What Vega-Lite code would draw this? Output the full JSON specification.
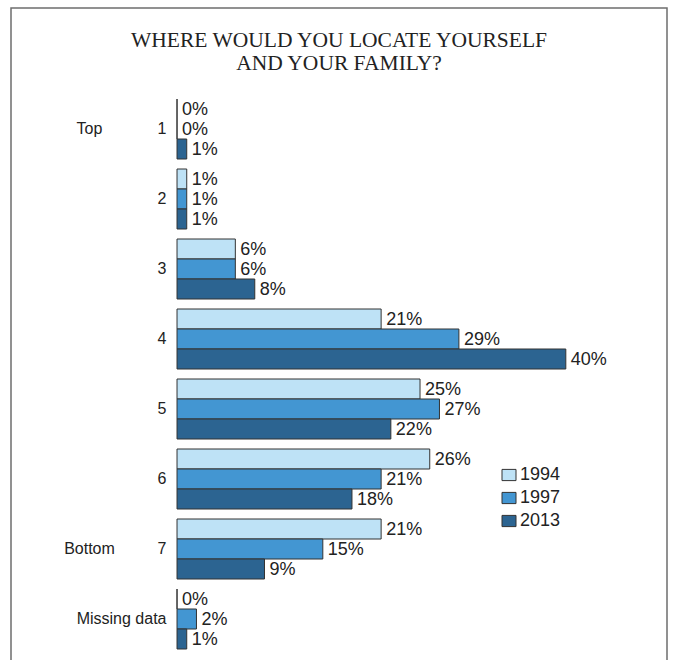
{
  "$schema": "https://vega.github.io/schema/vega-lite/v6.json",
  "width": 656,
  "height": 662,
  "autosize": {"type": "none"},
  "padding": {"left": 11, "top": 8, "right": 10, "bottom": 0},
  "background": "white",
  "config": {
    "view": {"stroke": "#6e6e6e", "strokeWidth": 1.5},
    "font": "Liberation Sans"
  },
  "title": {
    "text": ["WHERE WOULD YOU LOCATE YOURSELF", "AND YOUR FAMILY?"],
    "font": "Liberation Serif",
    "fontSize": 21.5,
    "fontWeight": "normal",
    "color": "#222222",
    "anchor": "middle",
    "lineHeight": 23,
    "offset": -66
  },
  "data": {
    "values": [
      {"cat": "1", "year": "1994", "value": 0, "label": "0%"},
      {"cat": "1", "year": "1997", "value": 0, "label": "0%"},
      {"cat": "1", "year": "2013", "value": 1, "label": "1%"},
      {"cat": "2", "year": "1994", "value": 1, "label": "1%"},
      {"cat": "2", "year": "1997", "value": 1, "label": "1%"},
      {"cat": "2", "year": "2013", "value": 1, "label": "1%"},
      {"cat": "3", "year": "1994", "value": 6, "label": "6%"},
      {"cat": "3", "year": "1997", "value": 6, "label": "6%"},
      {"cat": "3", "year": "2013", "value": 8, "label": "8%"},
      {"cat": "4", "year": "1994", "value": 21, "label": "21%"},
      {"cat": "4", "year": "1997", "value": 29, "label": "29%"},
      {"cat": "4", "year": "2013", "value": 40, "label": "40%"},
      {"cat": "5", "year": "1994", "value": 25, "label": "25%"},
      {"cat": "5", "year": "1997", "value": 27, "label": "27%"},
      {"cat": "5", "year": "2013", "value": 22, "label": "22%"},
      {"cat": "6", "year": "1994", "value": 26, "label": "26%"},
      {"cat": "6", "year": "1997", "value": 21, "label": "21%"},
      {"cat": "6", "year": "2013", "value": 18, "label": "18%"},
      {"cat": "7", "year": "1994", "value": 21, "label": "21%"},
      {"cat": "7", "year": "1997", "value": 15, "label": "15%"},
      {"cat": "7", "year": "2013", "value": 9, "label": "9%"},
      {"cat": "Missing data", "year": "1994", "value": 0, "label": "0%"},
      {"cat": "Missing data", "year": "1997", "value": 2, "label": "2%"},
      {"cat": "Missing data", "year": "2013", "value": 1, "label": "1%"}
    ]
  },
  "encoding": {
    "y": {
      "field": "cat",
      "type": "nominal",
      "sort": ["1", "2", "3", "4", "5", "6", "7", "Missing data"],
      "scale": {"paddingInner": 0.142857, "paddingOuter": 0.8, "align": 0.8125}
    },
    "yOffset": {
      "field": "year",
      "type": "nominal",
      "sort": ["1994", "1997", "2013"],
      "scale": {"paddingInner": 0, "paddingOuter": 0}
    },
    "x": {
      "field": "value",
      "type": "quantitative",
      "scale": {"domain": [-17.08, 50.41], "nice": false, "zero": false},
      "axis": null
    }
  },
  "layer": [
    {
      "mark": {"type": "bar", "stroke": "#333333", "strokeWidth": 1},
      "encoding": {
        "y": {
          "field": "cat",
          "type": "nominal",
          "sort": ["1", "2", "3", "4", "5", "6", "7", "Missing data"],
          "axis": {
            "title": null,
            "orient": "left",
            "offset": -166,
            "domain": false,
            "ticks": false,
            "tickSize": 0,
            "labelPadding": 11,
            "labelFontSize": 16,
            "labelColor": "#222222",
            "labelFont": "Liberation Sans"
          }
        },
        "x2": {"datum": 0},
        "color": {
          "field": "year",
          "type": "nominal",
          "scale": {"domain": ["1994", "1997", "2013"], "range": ["#bee2f6", "#4396d2", "#2c6491"]},
          "legend": {
            "title": null,
            "orient": "none",
            "legendX": 489,
            "legendY": 458,
            "symbolType": "M-1,-0.8H1V0.8H-1Z",
            "symbolSize": 196,
            "symbolStrokeColor": "#333333",
            "symbolStrokeWidth": 1,
            "symbolOpacity": 1,
            "labelFontSize": 18,
            "labelColor": "#222222",
            "labelFont": "Liberation Sans",
            "labelOffset": 2,
            "rowPadding": 5
          }
        }
      }
    },
    {
      "mark": {"type": "text", "align": "left", "baseline": "middle", "dx": 5, "dy": 1, "fontSize": 18, "color": "#222222"},
      "encoding": {
        "y": {
          "field": "cat",
          "type": "nominal",
          "sort": ["1", "2", "3", "4", "5", "6", "7", "Missing data"],
          "axis": {
            "title": null,
            "orient": "left",
            "offset": -78,
            "domain": false,
            "ticks": false,
            "tickSize": 0,
            "labelPadding": 0,
            "labelAlign": "center",
            "labelFontSize": 16,
            "labelColor": "#222222",
            "labelFont": "Liberation Sans",
            "labelExpr": "datum.value == '1' ? 'Top' : (datum.value == '7' ? 'Bottom' : '')"
          }
        },
        "text": {"field": "label"}
      }
    }
  ],
  "resolve": {"axis": {"y": "independent"}}
}
